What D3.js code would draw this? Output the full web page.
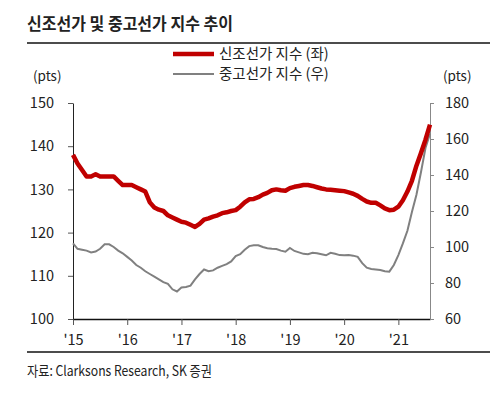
<!DOCTYPE html>
<html>
<head>
<meta charset="utf-8">
<script src="https://cdn.jsdelivr.net/npm/d3@7"></script>
<style>
  body { margin: 0; background: #fff; }
  svg text { font-family: "Noto Sans CJK KR", "Noto Sans", sans-serif; fill: #222; }
</style>
</head>
<body>
<svg width="500" height="400"></svg>
<script>
// monthly, Jan 2015 - Aug 2021
const startYear = 2015
const newbuild = [
  138, 136, 134.5, 133, 133, 133.5, 133, 133, 133, 133, 132, 131,
  131, 131, 130.5, 130, 129.5, 127, 125.8, 125.3, 125, 124, 123.5, 123,
  122.5, 122.3, 121.8, 121.3, 122, 123, 123.3, 123.7, 124, 124.5, 124.7, 125,
  125.2, 126, 127, 127.7, 127.8, 128.2, 128.8, 129.2, 129.8, 130, 129.8, 129.7,
  130.3, 130.6, 130.8, 131, 131, 130.8, 130.5, 130.2, 130, 129.9, 129.8, 129.7,
  129.6, 129.3, 129, 128.5, 127.8, 127.2, 126.9, 126.9, 126.3, 125.6, 125.2, 125.3,
  126, 127.5, 129.5, 132, 135.5, 138.4, 141.5, 145
]
const secondhand = [
  102, 99, 98.5, 98, 97, 97.5, 99, 101.5, 101.5, 100, 98, 96.5,
  94.5, 92.5, 90, 88.5, 86.5, 85, 83.5, 82, 80.5, 79.5, 76.5, 75.3,
  77.5, 77.8, 78.5, 82, 85, 87.5, 86.5, 87, 88.5, 89.5, 90.5, 92,
  95, 96, 98.5, 100.5, 101, 101, 100, 99.3, 99, 98.9, 98, 97.4,
  99.5, 97.8, 97, 96.2, 96, 96.8, 96.5, 96, 95.4, 96.8, 96.2, 95.5,
  95.4, 95.6, 95.2, 94.5, 91, 88.5, 87.8, 87.5, 87.2, 86.5, 86.3, 90,
  95.5, 102, 109, 119.5, 129, 141.5, 155, 163
]
const xTicks = [2015, 2016, 2017, 2018, 2019, 2020, 2021]
const leftTicks = [100, 110, 120, 130, 140, 150]
const rightTicks = [60, 80, 100, 120, 140, 160, 180]
const legendLabels = ['신조선가 지수 (좌)', '중고선가 지수 (우)']

const svg = d3.select('svg')

const margin = { top: 103, bottom: 81, left: 73, right: 70 }
const width = 500 - margin.left - margin.right
const height = 400 - margin.top - margin.bottom

// title + rules
svg.append('text')
  .attr('x', 27).attr('y', 30)
  .attr('font-size', 17).attr('font-weight', 'bold')
  .attr('textLength', 206).attr('lengthAdjust', 'spacingAndGlyphs')
  .text('신조선가 및 중고선가 지수 추이')
svg.append('line')
  .attr('x1', 27).attr('x2', 490).attr('y1', 43).attr('y2', 43)
  .attr('stroke', '#111').attr('stroke-width', 1.5)
svg.append('line')
  .attr('x1', 27).attr('x2', 490).attr('y1', 352).attr('y2', 352)
  .attr('stroke', '#111').attr('stroke-width', 1.5)
svg.append('text')
  .attr('x', 27).attr('y', 376)
  .attr('font-size', 14)
  .attr('textLength', 185).attr('lengthAdjust', 'spacingAndGlyphs')
  .text('자료: Clarksons Research, SK 증권')

const chart = svg.append('g')
  .attr('transform', `translate(${margin.left}, ${margin.top})`)

const dates = newbuild.map((d, i) => startYear + i / 12)

const xScale = d3.scaleLinear()
  .domain([2015, 2015 + 79 / 12])
  .range([0, width])

const yLeft = d3.scaleLinear().domain([100, 150]).range([height, 0])
const yRight = d3.scaleLinear().domain([60, 180]).range([height, 0])

/*axes*/
const xAxis = chart.append('g')
  .attr('transform', `translate(0, ${height})`)
  .call(d3.axisBottom(xScale)
    .tickValues(xTicks)
    .tickSize(6)
    .tickSizeOuter(0)
    .tickFormat((d) => "'" + String(d).slice(2)))
xAxis.select('.domain').attr('stroke', '#111').attr('stroke-width', 1.5)
xAxis.selectAll('.tick line').attr('stroke', '#555')
xAxis.selectAll('.tick text').attr('font-size', 14.5).attr('dy', '1.2em').attr('fill', '#222')

const leftAxis = chart.append('g')
  .call(d3.axisLeft(yLeft).tickValues(leftTicks).tickSize(5).tickSizeOuter(0).tickPadding(14))
leftAxis.select('.domain').attr('stroke', '#222')
leftAxis.selectAll('.tick line').attr('stroke', '#555')
leftAxis.selectAll('.tick text').attr('font-size', 14.5).attr('fill', '#222')

const rightAxis = chart.append('g')
  .attr('transform', `translate(${width}, 0)`)
  .call(d3.axisRight(yRight).tickValues(rightTicks).tickSize(4).tickSizeOuter(0).tickPadding(11))
rightAxis.select('.domain').attr('stroke', '#888')
rightAxis.selectAll('.tick line').attr('stroke', '#888')
rightAxis.selectAll('.tick text').attr('font-size', 14.5).attr('fill', '#222')

/*units*/
svg.append('text').attr('x', 33).attr('y', 81).attr('font-size', 13.5).text('(pts)')
svg.append('text').attr('x', 443).attr('y', 81).attr('font-size', 13.5).text('(pts)')

/*lines*/
const lineRight = d3.line()
  .x((d, i) => xScale(dates[i]))
  .y((d) => yRight(d))
const lineLeft = d3.line()
  .x((d, i) => xScale(dates[i]))
  .y((d) => yLeft(d))

chart.append('path')
  .datum(secondhand)
  .attr('fill', 'none')
  .attr('stroke', '#808080')
  .attr('stroke-width', 2)
  .attr('d', lineRight)

chart.append('path')
  .datum(newbuild)
  .attr('fill', 'none')
  .attr('stroke', '#c00000')
  .attr('stroke-width', 4.5)
  .attr('stroke-linejoin', 'round')
  .attr('d', lineLeft)

/*legend*/
const legend = svg.append('g')
legend.append('line')
  .attr('x1', 173).attr('x2', 214).attr('y1', 54).attr('y2', 54)
  .attr('stroke', '#c00000').attr('stroke-width', 4.5)
legend.append('line')
  .attr('x1', 173).attr('x2', 214).attr('y1', 74).attr('y2', 74)
  .attr('stroke', '#808080').attr('stroke-width', 2)
legend.selectAll('text.lg')
  .data(legendLabels)
  .enter()
  .append('text')
  .attr('class', 'lg')
  .attr('x', 219)
  .attr('y', (d, i) => 59 + i * 20)
  .attr('font-size', 14.5)
  .text((d) => d)
</script>
</body>
</html>
